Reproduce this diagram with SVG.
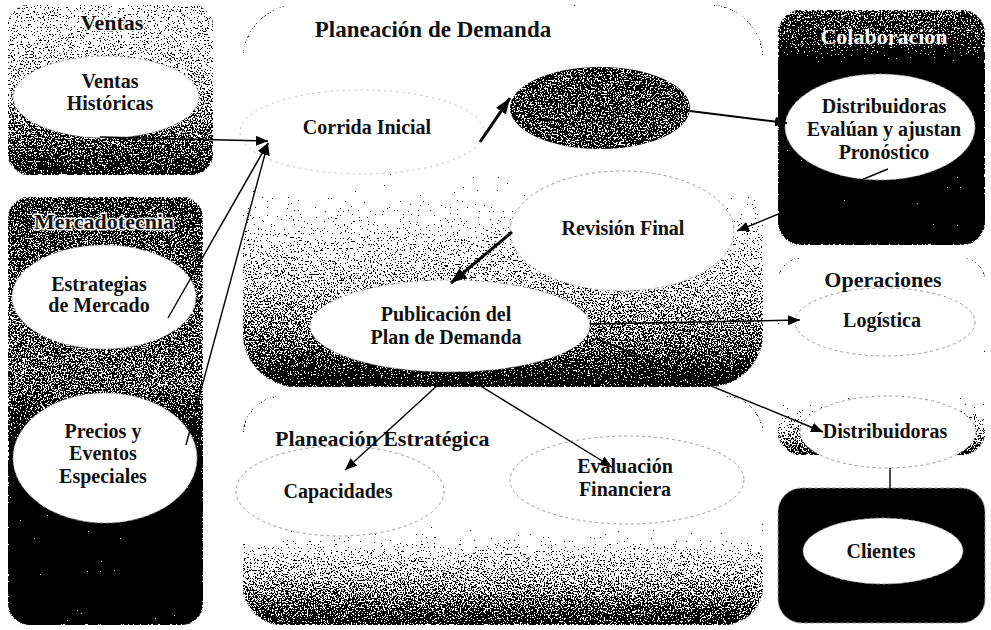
<svg xmlns="http://www.w3.org/2000/svg" width="991" height="630" viewBox="0 0 991 630">
<defs>
<style>
text{font-family:"Liberation Serif","Times New Roman",serif;font-weight:bold;fill:#111;text-anchor:middle}
.lbl{font-size:20px}
.ttl{font-size:22px}
.halo{stroke:#fff;stroke-width:3px;paint-order:stroke;stroke-linejoin:round}
.wt{fill:#fff}
.box{stroke:#999;stroke-width:1;stroke-dasharray:4 2}
.ell{fill:#fff;stroke:#999;stroke-width:1;stroke-dasharray:3 3}
.faint{fill:#fff;stroke:#bbb;stroke-width:1;stroke-dasharray:2 4}
.con{stroke:#000;fill:none;stroke-width:1.4}
.thick{stroke-width:3}
</style>
<filter id="grain" x="0" y="0" width="1" height="1" color-interpolation-filters="sRGB">
<feTurbulence type="fractalNoise" baseFrequency="0.7" numOctaves="2" seed="7" result="t"/>
<feColorMatrix in="t" type="matrix" values="1 0 0 0 0 1 0 0 0 0 1 0 0 0 0 0 0 0 0 1" result="g"/>
<feComposite in="SourceGraphic" in2="g" operator="arithmetic" k1="0" k2="2" k3="2.5" k4="-1.6" result="m"/>
<feComponentTransfer in="m" result="d">
<feFuncR type="discrete" tableValues="0 1"/>
<feFuncG type="discrete" tableValues="0 1"/>
<feFuncB type="discrete" tableValues="0 1"/>
</feComponentTransfer>
<feComposite in="d" in2="SourceGraphic" operator="in"/>
</filter>
<linearGradient id="gVentas" x1="0" y1="0" x2="0" y2="1">
<stop offset="0" stop-color="#a0a0a0"/><stop offset="0.35" stop-color="#909090"/><stop offset="0.7" stop-color="#6a6a6a"/><stop offset="1" stop-color="#404040"/>
</linearGradient>
<linearGradient id="gMerca" x1="0" y1="0" x2="0" y2="1">
<stop offset="0" stop-color="#505050"/><stop offset="0.3" stop-color="#606060"/><stop offset="0.45" stop-color="#606060"/><stop offset="0.6" stop-color="#202020"/><stop offset="0.72" stop-color="#000"/><stop offset="1" stop-color="#000"/>
</linearGradient>
<linearGradient id="gDem" x1="0" y1="0" x2="0" y2="1">
<stop offset="0" stop-color="#fff"/><stop offset="0.4" stop-color="#fff"/><stop offset="0.45" stop-color="#d9d9d9"/><stop offset="0.52" stop-color="#c1c1c1"/><stop offset="0.64" stop-color="#9a9a9a"/><stop offset="0.77" stop-color="#808080"/><stop offset="0.9" stop-color="#5d5d5d"/><stop offset="1" stop-color="#2e2e2e"/>
</linearGradient>
<linearGradient id="gColab" x1="0" y1="0" x2="0" y2="1">
<stop offset="0" stop-color="#5a5a5a"/><stop offset="0.15" stop-color="#404040"/><stop offset="0.25" stop-color="#000"/><stop offset="1" stop-color="#000"/>
</linearGradient>
<linearGradient id="gOps" x1="0" y1="0" x2="0" y2="1">
<stop offset="0" stop-color="#fff"/><stop offset="0.62" stop-color="#fff"/><stop offset="0.72" stop-color="#d0d0d0"/><stop offset="0.85" stop-color="#8e8e8e"/><stop offset="1" stop-color="#4a4a4a"/>
</linearGradient>
<linearGradient id="gEst" x1="0" y1="0" x2="0" y2="1">
<stop offset="0" stop-color="#fff"/><stop offset="0.5" stop-color="#fff"/><stop offset="0.6" stop-color="#c8c8c8"/><stop offset="0.7" stop-color="#9a9a9a"/><stop offset="0.85" stop-color="#707070"/><stop offset="1" stop-color="#404040"/>
</linearGradient>
<marker id="arr" viewBox="0 0 12 10" refX="12" refY="5" markerWidth="12" markerHeight="10" markerUnits="userSpaceOnUse" orient="auto">
<path d="M0,0 L12,5 L0,10 z" fill="#000"/>
</marker>
<marker id="arrB" viewBox="0 0 16 12" refX="16" refY="6" markerWidth="16" markerHeight="12" markerUnits="userSpaceOnUse" orient="auto">
<path d="M0,0 L16,6 L0,12 z" fill="#000"/>
</marker>
</defs>
<rect width="991" height="630" fill="#fff"/>

<g id="ventas">
<rect class="box" x="8" y="5" width="205" height="170" rx="22" fill="url(#gVentas)" filter="url(#grain)"/>
<text class="ttl halo" x="112" y="30">Ventas</text>
<g id="ventas-historicas">
<ellipse class="ell" cx="106" cy="97" rx="93" ry="41"/>
<text class="lbl" x="110" y="88">Ventas</text>
<text class="lbl" x="110" y="110">Históricas</text>
</g>
</g>

<g id="mercadotecnia">
<rect class="box" x="8" y="197" width="195" height="428" rx="22" fill="url(#gMerca)" filter="url(#grain)"/>
<text class="ttl halo" x="104" y="229">Mercadotecnia</text>
<g id="estrategias">
<ellipse class="ell" cx="104" cy="297" rx="92" ry="52"/>
<text class="lbl" x="99" y="291">Estrategias</text>
<text class="lbl" x="99" y="312">de Mercado</text>
</g>
<g id="precios">
<ellipse class="ell" cx="105" cy="458" rx="92" ry="65"/>
<text class="lbl" x="103" y="438">Precios y</text>
<text class="lbl" x="103" y="460">Eventos</text>
<text class="lbl" x="103" y="483">Especiales</text>
</g>
</g>

<g id="planeacion-demanda">
<rect class="box" x="243" y="5" width="520" height="382" rx="55" fill="url(#gDem)" filter="url(#grain)"/>
<text class="ttl" x="433" y="37" style="font-size:23px">Planeación de Demanda</text>
<g id="corrida-inicial">
<ellipse class="faint" cx="362" cy="132" rx="122" ry="42"/>
<text class="lbl" x="367" y="134">Corrida Inicial</text>
</g>
<g id="consenso">
<ellipse cx="600" cy="108" rx="90" ry="41" fill="#555" filter="url(#grain)"/>
</g>
<g id="revision-final">
<ellipse class="ell" cx="622" cy="231" rx="112" ry="60"/>
<text class="lbl" x="623" y="235">Revisión Final</text>
</g>
<g id="publicacion">
<ellipse class="ell" cx="450" cy="326" rx="140" ry="46"/>
<text class="lbl" x="446" y="321">Publicación del</text>
<text class="lbl" x="446" y="344">Plan de Demanda</text>
</g>
</g>

<g id="planeacion-estrategica">
<rect class="box" x="243" y="396" width="520" height="229" rx="40" fill="url(#gEst)" filter="url(#grain)"/>
<text class="ttl" x="275" y="446" style="text-anchor:start">Planeación Estratégica</text>
<g id="capacidades">
<ellipse class="ell" cx="340" cy="491" rx="104" ry="45"/>
<text class="lbl" x="338" y="498">Capacidades</text>
</g>
<g id="evaluacion">
<ellipse class="ell" cx="627" cy="480" rx="117" ry="44"/>
<text class="lbl" x="625" y="473">Evaluación</text>
<text class="lbl" x="625" y="496">Financiera</text>
</g>
</g>

<g id="colaboracion">
<rect class="box" x="778" y="10" width="207" height="235" rx="24" fill="url(#gColab)" filter="url(#grain)"/>
<text class="ttl wt" x="884" y="44">Colaboración</text>
<g id="distribuidoras-evaluan">
<ellipse class="ell" cx="880" cy="127" rx="95" ry="53"/>
<text class="lbl" x="884" y="113">Distribuidoras</text>
<text class="lbl" x="884" y="136">Evalúan y ajustan</text>
<text class="lbl" x="884" y="159">Pronóstico</text>
</g>
</g>

<g id="operaciones">
<rect class="box" x="778" y="258" width="207" height="197" rx="24" fill="url(#gOps)" filter="url(#grain)"/>
<g id="logistica">
<ellipse class="ell" cx="885" cy="322" rx="90" ry="34"/>
<text class="lbl" x="882" y="327">Logística</text>
</g>
<g id="distribuidoras">
<ellipse class="ell" cx="888" cy="432" rx="88" ry="36"/>
<text class="lbl" x="885" y="438">Distribuidoras</text>
</g>
<text class="ttl" x="883" y="287">Operaciones</text>
</g>

<g id="clientes">
<rect class="box" x="778" y="488" width="207" height="135" rx="24" fill="#000"/>
<ellipse class="ell" cx="883" cy="551" rx="80" ry="33"/>
<text class="lbl" x="881" y="558">Clientes</text>
</g>

<g id="connectors">
<line class="con" x1="100" y1="137" x2="268" y2="141" marker-end="url(#arr)"/>
<line class="con" x1="168" y1="318" x2="268" y2="143" marker-end="url(#arr)"/>
<line class="con" x1="186" y1="445" x2="268" y2="143" marker-end="url(#arr)"/>
<line class="con thick" x1="480" y1="142" x2="510" y2="98" marker-end="url(#arrB)"/>
<line class="con" style="stroke-width:2" x1="690" y1="111" x2="787" y2="123" marker-end="url(#arr)"/>
<line class="con" x1="888" y1="169" x2="737" y2="231" marker-end="url(#arr)"/>
<line class="con thick" x1="512" y1="232" x2="451" y2="283" marker-end="url(#arrB)"/>
<line class="con" x1="590" y1="324" x2="800" y2="320" marker-end="url(#arr)"/>
<line class="con" x1="595" y1="338" x2="823" y2="432" marker-end="url(#arr)"/>
<line class="con" x1="452" y1="372" x2="345" y2="470" marker-end="url(#arr)"/>
<line class="con" x1="458" y1="372" x2="612" y2="467" marker-end="url(#arr)"/>
<line class="con" x1="890" y1="468" x2="890" y2="490"/>
</g>
</svg>
